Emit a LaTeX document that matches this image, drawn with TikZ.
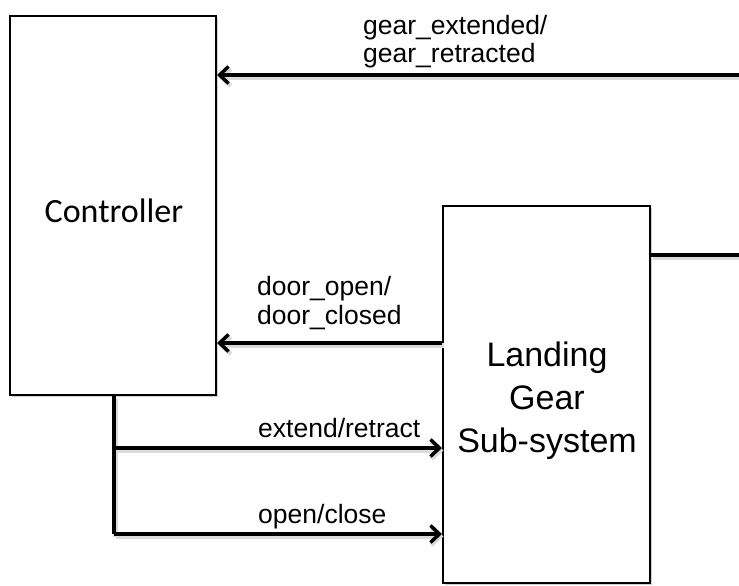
\documentclass[tikz,border=0pt]{standalone}
\usepackage{fontspec}
\setmainfont{Liberation Sans}
\newfontfamily\calibrifont{Carlito}
\usetikzlibrary{arrows.meta,shadows}
\begin{document}
\begin{tikzpicture}[x=1pt,y=-1pt,
  box/.style={draw=black, line width=2pt, fill=white, inner sep=0pt,
    drop shadow={shadow xshift=2pt, shadow yshift=-2pt, opacity=0.18, fill=black}},
  wire/.style={line width=3.5pt, line cap=butt,
    preaction={draw=black!14, line width=4.5pt,
      transform canvas={shift={(1.5pt,-2.5pt)}}}},
  sig/.style={wire, -{Straight Barb[length=9pt,width=17pt]}},
  lab/.style={font=\fontsize{26.5}{28.5}\selectfont, inner sep=0pt,
    anchor=base west, align=left}]
\useasboundingbox (0,0) rectangle (739,586);

% the two blocks
\node[box, minimum width=206.5pt, minimum height=378.5pt] (ctrl) at (112.75,205.75) {};
\node[box, minimum width=207pt, minimum height=377pt] (lg) at (546.5,394.5) {};

% block titles
\node[font=\calibrifont\fontsize{34}{40}\selectfont, inner sep=0pt,
  anchor=base] (ctrlt) at (114,222) {Controller};
\node[font=\fontsize{34}{43}\selectfont, inner sep=0pt, align=center,
  anchor=base] (lgt) at (547,452) {Landing\\Gear\\Sub-system};

% free ends and junction points
\coordinate (gin)  at (739,75);
\coordinate (dr)   at (0,343);
\coordinate (out)  at (739,255);
\coordinate (ext)  at (114,448);
\coordinate (opn)  at (114,534);

% status signals into the controller
\draw[sig] (gin) -- (ctrl.east |- gin);
\draw[sig] (lg.west |- dr) -- (ctrl.east |- dr);

% commands from the controller
\draw[wire] (ctrl.south -| ext) -- (opn);
\draw[sig] (ext) -- (lg.west |- ext);
\draw[sig] (opn) -- (lg.west |- opn);

% output of the landing gear
\draw[wire] (lg.east |- out) -- (out);

% signal labels (anchored on the baseline of the last line)
\node[lab] (lgear) at (363,63) {gear\_extended/\\gear\_retracted};
\node[lab] (ldoor) at (257,324) {door\_open/\\door\_closed};
\node[lab] (lext)  at (258,437) {extend/retract};
\node[lab] (lopn)  at (258,523) {open/close};
\end{tikzpicture}
\end{document}
